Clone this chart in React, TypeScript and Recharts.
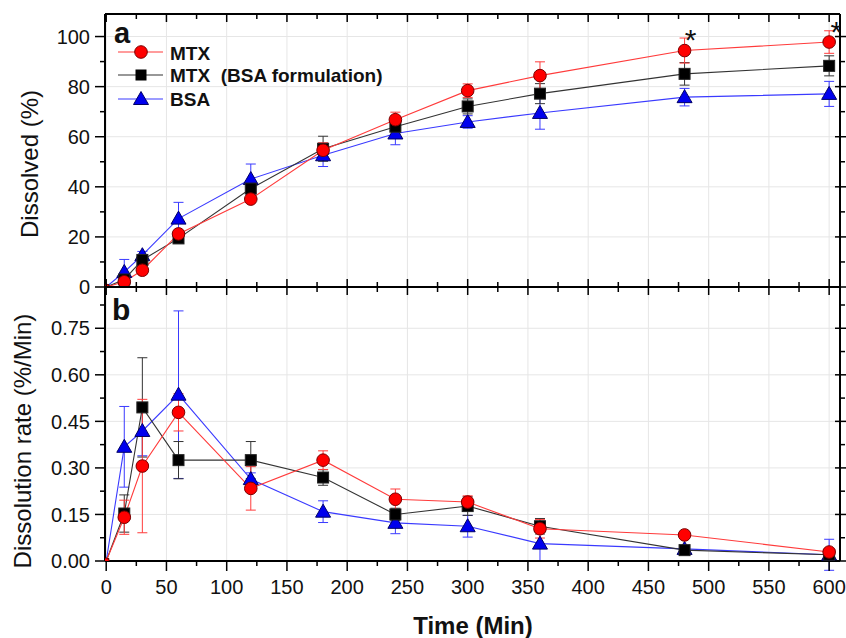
import React from 'react';
import { ComposedChart, Line, XAxis, YAxis, CartesianGrid, ErrorBar, Scatter } from 'recharts';

// ---- data ----
const times = [0, 15, 30, 60, 120, 180, 240, 300, 360, 480, 600];

const mtxDissolved = [0, 2.1, 6.7, 21.2, 35.1, 54.6, 66.8, 78.4, 84.4, 94.4, 97.8];
const mtxDissolvedErr = [0, 1, 1.5, 1.5, 1.5, 3, 3, 2.7, 5.5, 5, 4.5];
const mtxBsaDissolved = [0, 3, 10.8, 19.4, 39.3, 55.2, 64, 72.1, 77.2, 85.1, 88.3];
const mtxBsaDissolvedErr = [0, 1, 1.5, 1.5, 1.5, 5, 3, 3, 4, 4.5, 4];
const bsaDissolved = [0, 6, 12.7, 27.3, 43.1, 52.6, 61.3, 65.9, 69.5, 75.8, 77.1];
const bsaDissolvedErr = [0, 5, 1.5, 6.5, 6, 4.5, 4.5, 2.5, 6.5, 3.5, 5];

const mtxRate = [0, 0.141, 0.306, 0.479, 0.234, 0.325, 0.199, 0.19, 0.104, 0.084, 0.029];
const mtxRateErr = [0, 0.055, 0.215, 0.06, 0.07, 0.03, 0.033, 0.02, 0.03, 0.005, 0.01];
const mtxBsaRate = [0, 0.153, 0.495, 0.325, 0.325, 0.269, 0.15, 0.177, 0.112, 0.035, 0.02];
const mtxBsaRateErr = [0, 0.06, 0.16, 0.06, 0.06, 0.025, 0.02, 0.03, 0.025, 0.005, 0.005];
const bsaRate = [0, 0.368, 0.419, 0.536, 0.264, 0.159, 0.123, 0.112, 0.056, 0.039, 0.02];
const bsaRateErr = [0, 0.13, 0.08, 0.27, 0.02, 0.035, 0.035, 0.035, 0.055, 0.005, 0.05];

const starTimes = [485, 606];
const starLevels = [101.3, 104.8];

const xMajorTicks = [0, 50, 100, 150, 200, 250, 300, 350, 400, 450, 500, 550, 600];
const xMinorTicks = [25, 75, 125, 175, 225, 275, 325, 375, 425, 475, 525, 575];
const dissolvedTicks = [0, 20, 40, 60, 80, 100];
const dissolvedMinorTicks = [10, 30, 50, 70, 90];
const rateTicks = [0, 0.15, 0.3, 0.45, 0.6, 0.75];
const rateMinorTicks = [0.075, 0.225, 0.375, 0.525, 0.675, 0.825];

const xAllTicks = [...xMajorTicks, ...xMinorTicks].sort((a, b) => a - b);
const dissolvedAllTicks = [...dissolvedTicks, ...dissolvedMinorTicks].sort((a, b) => a - b);
const rateAllTicks = [...rateTicks, ...rateMinorTicks].sort((a, b) => a - b);

const topData = times.map((t, i) => ({
  t,
  mtx: mtxDissolved[i],
  mtxErr: mtxDissolvedErr[i],
  mtxBsa: mtxBsaDissolved[i],
  mtxBsaErr: mtxBsaDissolvedErr[i],
  bsa: bsaDissolved[i],
  bsaErr: bsaDissolvedErr[i],
}));
const bottomData = times.map((t, i) => ({
  t,
  mtx: mtxRate[i],
  mtxErr: mtxRateErr[i],
  mtxBsa: mtxBsaRate[i],
  mtxBsaErr: mtxBsaRateErr[i],
  bsa: bsaRate[i],
  bsaErr: bsaRateErr[i],
}));
const starData = starTimes.map((t, i) => ({ t, star: starLevels[i] }));

// ---- style ----
const FONT = '"Liberation Sans", Arial, Helvetica, sans-serif';
const X_DOMAIN: [number, number] = [-1, 609];
const TOP_DOMAIN: [number, number] = [0, 109];
const RATE_DOMAIN: [number, number] = [0, 0.883];
const RED = '#ff3b3b';
const BLACK = '#333333';
const BLUE = '#3a3aff';
const AXIS = { stroke: '#000', strokeWidth: 2 };

type Orient = 'left' | 'right' | 'top' | 'bottom';
// tick renderer: draws inner/outer tick lines, with label for majors if requested
const makeTick =
  (
    orient: Orient,
    majors: number[],
    major: [number, number], // [inward, outward]
    minor: [number, number],
    format?: (v: number) => string,
  ) =>
  (props: any) => {
    const { x, y, payload, index } = props;
    const v = payload.value;
    const isMajor = majors.some((m) => Math.abs(m - v) < 1e-9);
    const [inn, out] = isMajor ? major : minor;
    let line;
    let label = null;
    if (orient === 'left') {
      line = <line x1={x + inn} x2={x - out} y1={y} y2={y} />;
      if (format && isMajor)
        label = (
          <text x={x - 15} y={y} dy="0.36em" textAnchor="end" fontSize={20} fill="#111" stroke="none" fontFamily={FONT}>
            {format(v)}
          </text>
        );
    } else if (orient === 'right') {
      line = <line x1={x - inn} x2={x + out} y1={y} y2={y} />;
    } else if (orient === 'top') {
      line = <line x1={x} x2={x} y1={y + inn} y2={y - out} />;
    } else {
      line = <line x1={x} x2={x} y1={y - inn} y2={y + out} />;
      if (format && isMajor)
        label = (
          <text x={x} y={y + 33} textAnchor="middle" fontSize={20} fill="#111" stroke="none" fontFamily={FONT}>
            {format(v)}
          </text>
        );
    }
    return (
      <g key={`tk-${orient}-${index}`} stroke="#000" strokeWidth={1.5}>
        {line}
        {label}
      </g>
    );
  };

const CircleDot = (p: any) =>
  p.cx == null ? null : (
    <circle
      key={`c${p.index}`}
      cx={p.cx}
      cy={p.cy}
      r={p.payload && p.payload.t === 0 ? 3 : 6.3}
      fill="#ff0000"
      stroke="#7a0000"
      strokeWidth={1}
    />
  );
const SquareDot = (p: any) => {
  if (p.cx == null) return null;
  const h = p.payload && p.payload.t === 0 ? 2.5 : 5.5;
  return <rect key={`s${p.index}`} x={p.cx - h} y={p.cy - h} width={2 * h} height={2 * h} fill="#000" stroke="#222" strokeWidth={1} />;
};
const TriDot = (p: any) => {
  if (p.cx == null) return null;
  const s = p.payload && p.payload.t === 0 ? 0.4 : 1;
  return (
    <polygon
      key={`t${p.index}`}
      points={`${p.cx},${p.cy - 7.5 * s} ${p.cx - 7.5 * s},${p.cy + 5.5 * s} ${p.cx + 7.5 * s},${p.cy + 5.5 * s}`}
      fill="#0000ee"
      stroke="#000066"
      strokeWidth={1}
    />
  );
};
const StarShape = (p: any) => (
  <text x={p.cx} y={p.cy + 17} textAnchor="middle" fontSize={30} fontFamily={FONT} fill="#111">
    *
  </text>
);

function renderSeries() {
  return [
    <Line key="l3" type="linear" dataKey="bsa" stroke={BLUE} strokeWidth={1.1} dot={TriDot} activeDot={false} isAnimationActive={false}>
      <ErrorBar dataKey="bsaErr" width={5} stroke={BLUE} strokeWidth={1} direction="y" />
    </Line>,
    <Line key="l2" type="linear" dataKey="mtxBsa" stroke={BLACK} strokeWidth={1.1} dot={SquareDot} activeDot={false} isAnimationActive={false}>
      <ErrorBar dataKey="mtxBsaErr" width={5} stroke={BLACK} strokeWidth={1} direction="y" />
    </Line>,
    <Line key="l1" type="linear" dataKey="mtx" stroke={RED} strokeWidth={1.1} dot={CircleDot} activeDot={false} isAnimationActive={false}>
      <ErrorBar dataKey="mtxErr" width={5} stroke={RED} strokeWidth={1} direction="y" />
    </Line>,
  ];
}

const fmtInt = (v: number) => String(v);
const fmt2 = (v: number) => v.toFixed(2);

export default function App() {
  return (
    <div style={{ position: 'absolute', left: 0, top: 0, width: 846, height: 638, background: '#fff', overflow: 'hidden' }}>
      {/* Top panel: Dissolved (%) */}
      <div style={{ position: 'absolute', left: 0, top: 0 }}>
        <ComposedChart width={846} height={300} data={topData} margin={{ top: 13, right: 5, bottom: 12, left: 0 }}>
          <CartesianGrid stroke="#e6e6e6" strokeWidth={1} verticalValues={xMajorTicks} horizontalValues={dissolvedTicks} />
          <XAxis dataKey="t" type="number" domain={X_DOMAIN} allowDataOverflow ticks={xAllTicks} interval={0} height={1} tickSize={0} tickMargin={0} tickLine={false} axisLine={AXIS} tick={makeTick('bottom', xMajorTicks, [8, 0], [5, 0])} />
          <XAxis xAxisId="xt" orientation="top" dataKey="t" type="number" domain={X_DOMAIN} allowDataOverflow ticks={xAllTicks} interval={0} height={1} tickSize={0} tickMargin={0} tickLine={false} axisLine={AXIS} tick={makeTick('top', xMajorTicks, [8, 0], [5, 0])} />
          <YAxis type="number" domain={TOP_DOMAIN} allowDataOverflow ticks={dissolvedAllTicks} interval={0} width={105} tickSize={0} tickMargin={0} tickLine={false} axisLine={AXIS} tick={makeTick('left', dissolvedTicks, [0, 10], [0, 5], fmtInt)} />
          <YAxis yAxisId="yr" orientation="right" type="number" domain={TOP_DOMAIN} allowDataOverflow ticks={dissolvedAllTicks} interval={0} width={1} tickSize={0} tickMargin={0} tickLine={false} axisLine={AXIS} tick={makeTick('right', dissolvedTicks, [5, 7], [0, 5])} />
          {renderSeries()}
          <Scatter data={starData} dataKey="star" shape={StarShape} isAnimationActive={false} />
        </ComposedChart>
      </div>

      {/* Bottom panel: Dissolution rate */}
      <div style={{ position: 'absolute', left: 0, top: 273 }}>
        <ComposedChart width={846} height={365} data={bottomData} margin={{ top: 13, right: 5, bottom: 37, left: 0 }}>
          <CartesianGrid stroke="#e6e6e6" strokeWidth={1} verticalValues={xMajorTicks} horizontalValues={rateTicks} />
          <XAxis dataKey="t" type="number" domain={X_DOMAIN} allowDataOverflow ticks={xAllTicks} interval={0} height={40} tickSize={0} tickMargin={0} tickLine={false} axisLine={AXIS} tick={makeTick('bottom', xMajorTicks, [0, 10], [0, 5], fmtInt)} />
          <XAxis xAxisId="xt" orientation="top" dataKey="t" type="number" domain={X_DOMAIN} allowDataOverflow ticks={xAllTicks} interval={0} height={1} tickSize={0} tickMargin={0} tickLine={false} axisLine={AXIS} tick={makeTick('top', xMajorTicks, [8, 0], [5, 0])} />
          <YAxis type="number" domain={RATE_DOMAIN} allowDataOverflow ticks={rateAllTicks} interval={0} width={105} tickSize={0} tickMargin={0} tickLine={false} axisLine={AXIS} tick={makeTick('left', rateTicks, [0, 10], [0, 5], fmt2)} />
          <YAxis yAxisId="yr" orientation="right" type="number" domain={RATE_DOMAIN} allowDataOverflow ticks={rateAllTicks} interval={0} width={1} tickSize={0} tickMargin={0} tickLine={false} axisLine={AXIS} tick={makeTick('right', rateTicks, [5, 7], [0, 5])} />
          {renderSeries()}
        </ComposedChart>
      </div>

      {/* Titles, panel letters and legend */}
      <svg width={846} height={638} style={{ position: 'absolute', left: 0, top: 0, pointerEvents: 'none' }}>
        <g fontFamily={FONT} fill="#111">
          <text x={38} y={164} transform="rotate(-90 38 164)" textAnchor="middle" fontSize={24}>
            Dissolved (%)
          </text>
          <text x={31} y={441} transform="rotate(-90 31 441)" textAnchor="middle" fontSize={24}>
            Dissolution rate (%/Min)
          </text>
          <text x={473} y={634} textAnchor="middle" fontSize={24} fontWeight="bold">
            Time (Min)
          </text>
          <text x={114} y={43} fontSize={29} fontWeight="bold">a</text>
          <text x={112} y={320} fontSize={30} fontWeight="bold">b</text>

          <line x1={118} x2={163} y1={52} y2={52} stroke={RED} strokeWidth={1.1} />
          <circle cx={141} cy={52} r={6.3} fill="#ff0000" stroke="#7a0000" strokeWidth={1} />
          <text x={170} y={59.5} fontSize={19} fontWeight="bold">MTX</text>

          <line x1={118} x2={163} y1={75} y2={75} stroke={BLACK} strokeWidth={1.1} />
          <rect x={135.5} y={69.5} width={11} height={11} fill="#000" />
          <text x={170} y={82} fontSize={19} fontWeight="bold" style={{ whiteSpace: 'pre' }}>MTX  (BSA formulation)</text>

          <line x1={118} x2={163} y1={99} y2={99} stroke={BLUE} strokeWidth={1.1} />
          <polygon points="141,91.5 133.5,104.5 148.5,104.5" fill="#0000ee" stroke="#000066" strokeWidth={1} />
          <text x={170} y={106} fontSize={19} fontWeight="bold">BSA</text>
        </g>
      </svg>
    </div>
  );
}
